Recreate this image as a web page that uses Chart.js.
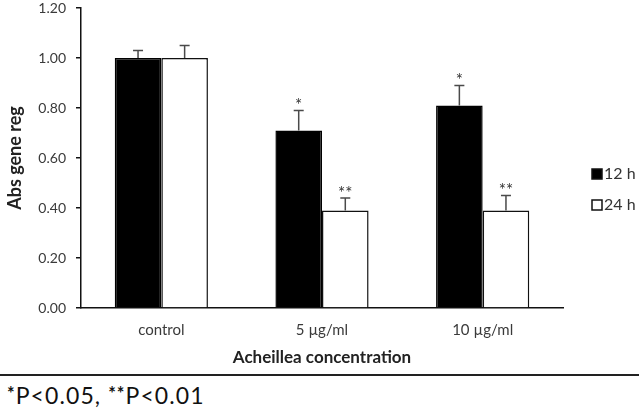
<!DOCTYPE html>
<html>
<head>
<meta charset="utf-8">
<script src="https://cdn.jsdelivr.net/npm/chart.js@4"></script>
<style>
body { margin:0; background:#fff; width:639px; height:414px; overflow:hidden; font-family:Lato, "Liberation Sans", sans-serif; }
#wrap { position:relative; width:639px; height:372px; }
#rule { position:absolute; left:0; top:374px; width:639px; height:0; border-top:2px solid #222; }
#note { position:absolute; left:7px; top:381px; font-size:23px; color:#111; white-space:nowrap; letter-spacing:1.1px; }
#note sup { font-size:18px; font-weight:bold; vertical-align:4px; letter-spacing:1px; }
</style>
</head>
<body>
<div id="wrap"><canvas id="chart" width="639" height="372"></canvas></div>
<div id="rule"></div>
<div id="note"><sup>*</sup>P&lt;0.05, <sup>**</sup>P&lt;0.01</div>
<script>
document.addEventListener("DOMContentLoaded", function () {

const categories = ["control", "5 µg/ml", "10 µg/ml"];
const seriesNames = ["12 h", "24 h"];
const values12h = [1.00, 0.71, 0.81];
const values24h = [1.00, 0.39, 0.39];
const errors12h = [0.03, 0.08, 0.08];
const errors24h = [0.05, 0.05, 0.06];
const marks12h = ["", "*", "*"];
const marks24h = ["", "**", "**"];
const yTicks = [0, 0.2, 0.4, 0.6, 0.8, 1.0, 1.2];

const FONT = "Lato, 'Liberation Sans', sans-serif";

/* ===== error bars + significance marks ===== */
const errorBarPlugin = {
    id: "errorBars",
    afterDatasetsDraw(chart) {
        const ctx = chart.ctx;
        const y = chart.scales.y;
        chart.data.datasets.forEach((ds, i) => {
            const meta = chart.getDatasetMeta(i);
            meta.data.forEach((bar, j) => {
                const top = y.getPixelForValue(ds.data[j] + ds.errors[j]);
                const base = y.getPixelForValue(ds.data[j]);
                ctx.save();
                ctx.strokeStyle = "#4a4a4a";
                ctx.lineWidth = 1.5;
                ctx.beginPath();
                ctx.moveTo(bar.x, base);
                ctx.lineTo(bar.x, top);
                ctx.moveTo(bar.x - 5, top);
                ctx.lineTo(bar.x + 5, top);
                ctx.stroke();
                if (ds.marks[j]) {
                    ctx.fillStyle = "#333";
                    ctx.font = "17px " + FONT;
                    ctx.textAlign = "center";
                    ctx.textBaseline = "bottom";
                    ctx.fillText(ds.marks[j], bar.x, top + 4);
                }
                ctx.restore();
            });
        });
    }
};

/* ===== legend at the right ===== */
const sideLegendPlugin = {
    id: "sideLegend",
    afterDraw(chart) {
        const ctx = chart.ctx;
        chart.data.datasets.forEach((ds, i) => {
            const yy = 174 + i * 31;
            ctx.save();
            ctx.fillStyle = ds.backgroundColor;
            ctx.fillRect(592, yy - 5, 10, 10);
            ctx.strokeStyle = "#111";
            ctx.lineWidth = 1.5;
            ctx.strokeRect(592, yy - 5, 10, 10);
            ctx.fillStyle = "#333";
            ctx.font = "16px " + FONT;
            ctx.textAlign = "left";
            ctx.textBaseline = "middle";
            ctx.fillText(ds.label, 604, yy);
            ctx.restore();
        });
    }
};

new Chart(document.getElementById("chart"), {
    type: "bar",
    data: {
        labels: categories,
        datasets: [
            { label: seriesNames[0], data: values12h, errors: errors12h, marks: marks12h,
              backgroundColor: "#000000", borderColor: "#000000", borderWidth: 1.5 },
            { label: seriesNames[1], data: values24h, errors: errors24h, marks: marks24h,
              backgroundColor: "#ffffff", borderColor: "#111111", borderWidth: 1.5 }
        ]
    },
    options: {
        responsive: false,
        animation: false,
        layout: { padding: { top: 8, right: 76, left: 0, bottom: 0 } },
        datasets: { bar: { categoryPercentage: 0.58, barPercentage: 1, borderSkipped: "bottom" } },
        plugins: { legend: { display: false }, tooltip: { enabled: false } },
        scales: {
            x: {
                grid: { display: false, drawTicks: false },
                border: { display: true, color: "#111", width: 1.5 },
                ticks: { color: "#3a3a3a", font: { family: FONT, size: 15 }, padding: 13 },
                title: { display: true, text: "Acheillea concentration", color: "#222",
                         font: { family: FONT, size: 17, weight: "bold" }, padding: { top: 4 } },
                afterFit(scale) { scale.height = 64; }
            },
            y: {
                min: 0,
                max: 1.2,
                afterBuildTicks(scale) { scale.ticks = yTicks.map(v => ({ value: v })); },
                grid: { drawOnChartArea: false, drawTicks: true, tickLength: 5, color: "#111", lineWidth: 1.5 },
                border: { display: true, color: "#111", width: 1.5 },
                ticks: { color: "#3a3a3a", font: { family: FONT, size: 14 }, padding: 10,
                         callback: v => Number(v).toFixed(2) },
                title: { display: true, text: "Abs gene reg", color: "#222",
                         font: { family: FONT, size: 18, weight: "bold" }, padding: { bottom: 0 } },
                afterFit(scale) { scale.width = 81; scale.paddingTop = 0; scale.paddingBottom = 0; }
            }
        }
    },
    plugins: [errorBarPlugin, sideLegendPlugin]
});

});
</script>
</body>
</html>
